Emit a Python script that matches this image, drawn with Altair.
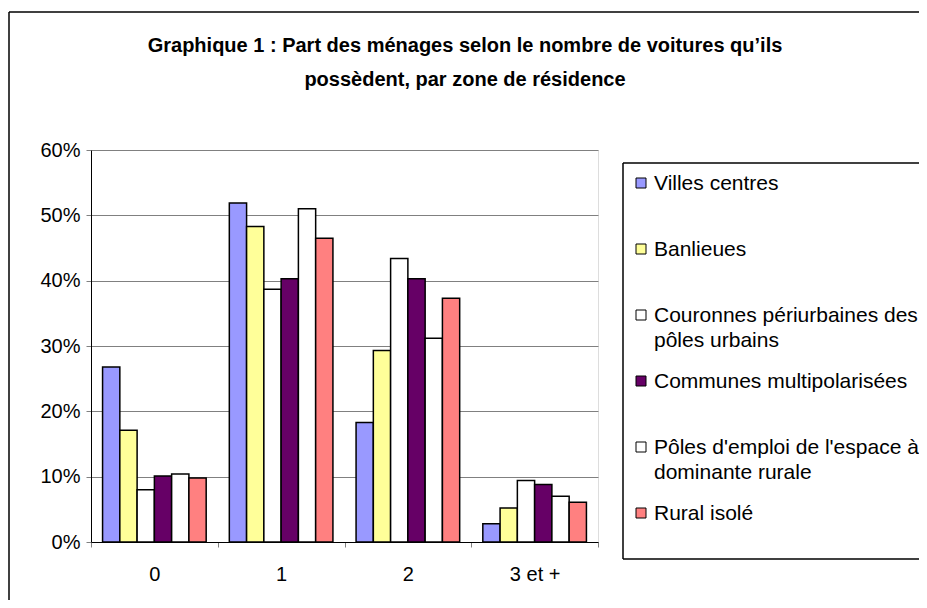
import altair as alt
import pandas as pd

categories = ["0", "1", "2", "3 et +"]
series = [
    "Villes centres",
    "Banlieues",
    "Couronnes périurbaines des pôles urbains",
    "Communes multipolarisées",
    "Pôles d'emploi de l'espace à dominante rurale",
    "Rural isolé",
]
legend_labels = [
    "Villes centres",
    "Banlieues",
    "Couronnes périurbaines des\npôles urbains",
    "Communes multipolarisées",
    "Pôles d'emploi de l'espace à\ndominante rurale",
    "Rural isolé",
]
colors = ["#9999FF", "#FFFF99", "#FFFFFF", "#660066", "#FFFFFF", "#FF8080"]

villes_centres = [26.8, 51.9, 18.3, 2.8]
banlieues = [17.1, 48.3, 29.3, 5.2]
couronnes = [8.0, 38.7, 43.4, 9.4]
communes_multi = [10.1, 40.3, 40.3, 8.8]
poles_emploi = [10.4, 51.0, 31.2, 7.0]
rural_isole = [9.8, 46.5, 37.3, 6.1]

title_lines = [
    "Graphique 1 : Part des ménages selon le nombre de voitures qu\u2019ils",
    "possèdent, par zone de résidence",
]

all_values = [villes_centres, banlieues, couronnes, communes_multi, poles_emploi, rural_isole]
rows = []
for s, vals in zip(series, all_values):
    for c, v in zip(categories, vals):
        rows.append({"cat": c, "series": s, "value": v / 100})
df = pd.DataFrame(rows)
legend_df = pd.DataFrame({"series": series, "label": legend_labels})
title_df = pd.DataFrame({"line": title_lines, "idx": [0, 1]})
one = pd.DataFrame({"k": [0]})

FONT = "Liberation Sans"
color_enc = alt.Color("series:N", sort=series,
                      scale=alt.Scale(domain=series, range=colors), legend=None)

bars = alt.Chart(df).mark_bar(stroke="black", strokeWidth=1.5).encode(
    x=alt.X("cat:N", sort=categories, title=None,
            scale=alt.Scale(paddingInner=0, paddingOuter=0),
            axis=alt.Axis(labelAngle=0, tickBand="extent", grid=False,
                          labelFontSize=20, labelPadding=17, tickSize=5,
                          domainColor="black", tickColor="#808080")),
    xOffset=alt.XOffset("series:N", sort=series,
                        scale=alt.Scale(paddingInner=0, paddingOuter=0.67)),
    y=alt.Y("value:Q", title=None,
            scale=alt.Scale(domain=[0, 0.6], nice=False),
            axis=alt.Axis(format=".0%", values=[0, 0.1, 0.2, 0.3, 0.4, 0.5, 0.6],
                          grid=True, gridColor="#808080", labelFontSize=20,
                          labelPadding=6, tickSize=5, domainColor="black",
                          tickColor="#808080")),
    color=color_enc,
)

leg_y = alt.Y("series:N", sort=series, axis=None,
              scale=alt.Scale(type="point", range=[33, 363], padding=0))

leg_squares = alt.Chart(legend_df).mark_square(
    size=100, stroke="black", strokeWidth=1, opacity=1
).encode(x=alt.value(550), y=leg_y, color=color_enc)

leg_text = alt.Chart(legend_df).mark_text(
    align="left", baseline="top", dy=-10, fontSize=21, font=FONT,
    lineBreak="\n", lineHeight=25, color="black"
).encode(x=alt.value(563), y=leg_y, text="label:N")

title_y = alt.Y("idx:O", axis=None,
                scale=alt.Scale(type="point", range=[-104, -70], padding=0))
title_text = alt.Chart(title_df).mark_text(
    align="center", baseline="middle", fontSize=20, fontWeight="bold",
    font=FONT, color="black"
).encode(x=alt.value(374), y=title_y, text="line:N")


def hline(x, x2, y):
    return alt.Chart(one).mark_rule(color="black", strokeWidth=1.5).encode(
        x=alt.value(x), x2=alt.value(x2), y=alt.value(y))


def vline(x, y, y2):
    return alt.Chart(one).mark_rule(color="black", strokeWidth=1.5).encode(
        x=alt.value(x), y=alt.value(y), y2=alt.value(y2))


frame_top = hline(-82, 900, -138)
frame_left = vline(-82, -138, 500)
box_top = hline(532, 900, 13)
box_bottom = hline(532, 900, 409)
box_left = vline(532, 13, 409)

chart = alt.layer(
    frame_top, frame_left, box_top, box_bottom, box_left,
    title_text, bars, leg_squares, leg_text
).resolve_scale(
    y="independent"
).properties(
    width=507,
    height=392,
    autosize=alt.AutoSizeParams(type="none"),
    padding={"left": 83, "top": 142, "right": 321, "bottom": 58},
).configure_view(stroke="#808080", strokeWidth=1.5).configure_axis(
    labelFont=FONT, labelColor="black"
).configure(background="white")

chart.save("out.html", embed_options={"renderer": "svg", "actions": False})
